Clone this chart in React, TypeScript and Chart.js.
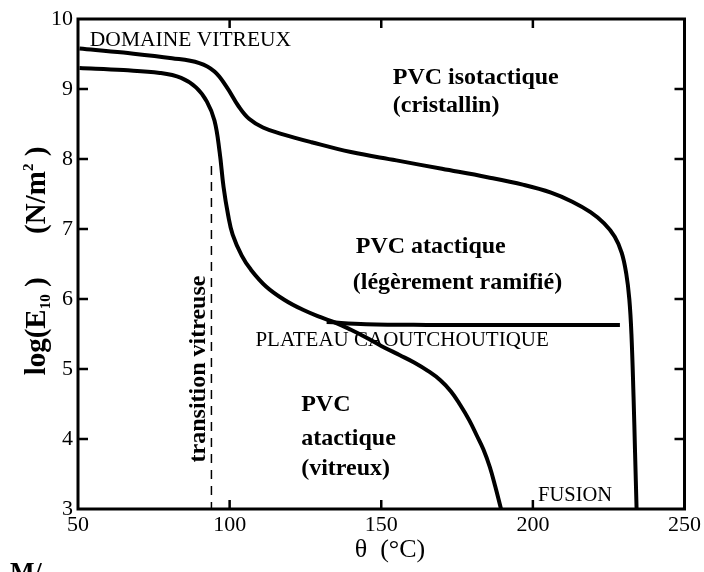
import React, { useEffect, useRef } from "react";
import { Chart, registerables } from "chart.js";

Chart.register(...registerables);

// PVC isotactique (cristallin)
const isoX = [50.5, 65, 81, 90, 95, 99, 103, 106.5, 111, 117, 127, 140, 155, 170, 185, 197, 206, 213, 219, 223.5, 227, 229.3, 230.8, 231.8, 232.5, 233.2, 233.7, 234.2];
const isoY = [9.58, 9.52, 9.44, 9.37, 9.25, 9.03, 8.75, 8.57, 8.45, 8.36, 8.24, 8.1, 7.98, 7.86, 7.74, 7.63, 7.52, 7.39, 7.24, 7.08, 6.89, 6.66, 6.36, 6.0, 5.5, 4.6, 3.8, 3.0];

// PVC atactique (vitreux)
const ataX = [50.5, 65, 77, 84, 89, 92.5, 95, 96.7, 98, 99.5, 101, 104, 107, 112, 118, 124, 130, 135, 140, 145, 150, 156, 161, 165.5, 169.5, 173, 176, 179, 181.5, 183.7, 185.8, 187.6, 189.5];
const ataY = [9.3, 9.27, 9.23, 9.16, 9.02, 8.82, 8.55, 8.1, 7.6, 7.2, 6.92, 6.62, 6.42, 6.18, 5.99, 5.85, 5.74, 5.66, 5.56, 5.45, 5.33, 5.2, 5.09, 4.97, 4.84, 4.68, 4.49, 4.27, 4.05, 3.85, 3.6, 3.32, 3.0];

// PVC atactique (légèrement ramifié) – plateau branch
const ramX = [132, 145, 165, 190, 215, 228.7];
const ramY = [5.67, 5.64, 5.63, 5.63, 5.63, 5.63];

// transition vitreuse (dashed)
const tgX = [94, 94];
const tgY = [7.9, 3.0];

const xTickValues = [50, 100, 150, 200, 250];
const yTickValues = [3, 4, 5, 6, 7, 8, 9, 10];
const innerXTicks = [100, 150, 200];
const innerYTicks = [4, 5, 6, 7, 8, 9];

const annotationTexts = [
  "DOMAINE VITREUX",
  "PVC isotactique",
  "(cristallin)",
  "PVC atactique",
  "(légèrement ramifié)",
  "PLATEAU CAOUTCHOUTIQUE",
  "PVC",
  "atactique",
  "(vitreux)",
  "FUSION",
];
const annotationX = [53.9, 153.8, 153.8, 141.6, 140.6, 108.5, 123.6, 123.6, 123.6, 201.7];
const annotationY = [9.7, 9.16, 8.76, 6.74, 6.23, 5.41, 4.49, 4.01, 3.57, 3.19];
const annotationBold = [false, true, true, true, true, false, true, true, true, false];
const annotationSize = [21.5, 24, 24, 24, 24, 21, 24, 24, 24, 20.5];

const verticalText = "transition vitreuse";
const verticalTextX = 89.7;
const verticalTextY = 5.0;

const toPts = (xs: number[], ys: number[]) => xs.map((x, i) => ({ x, y: ys[i] }));

const SERIF = '"Liberation Serif", "Times New Roman", serif';

const decorPlugin = {
  id: "decor",
  afterDatasetsDraw(chart: any) {
    const { ctx, chartArea: a, scales } = chart;
    const xs = scales.x;
    const ys = scales.y;
    ctx.save();
    ctx.strokeStyle = "#000";
    ctx.fillStyle = "#000";
    // frame
    ctx.lineWidth = 3;
    ctx.strokeRect(a.left, a.top, a.right - a.left, a.bottom - a.top);
    // inward ticks
    ctx.lineWidth = 2.5;
    ctx.beginPath();
    innerYTicks.forEach((v) => {
      const py = ys.getPixelForValue(v);
      ctx.moveTo(a.left, py);
      ctx.lineTo(a.left + 10, py);
      ctx.moveTo(a.right, py);
      ctx.lineTo(a.right - 10, py);
    });
    innerXTicks.forEach((v) => {
      const px = xs.getPixelForValue(v);
      ctx.moveTo(px, a.bottom);
      ctx.lineTo(px, a.bottom - 9);
      ctx.moveTo(px, a.top);
      ctx.lineTo(px, a.top + 9);
    });
    ctx.stroke();

    // annotations
    ctx.textAlign = "left";
    ctx.textBaseline = "middle";
    annotationTexts.forEach((t, i) => {
      ctx.font = `${annotationBold[i] ? "bold " : ""}${annotationSize[i]}px ${SERIF}`;
      ctx.fillText(t, xs.getPixelForValue(annotationX[i]), ys.getPixelForValue(annotationY[i]));
    });

    // vertical annotation
    ctx.save();
    ctx.translate(xs.getPixelForValue(verticalTextX), ys.getPixelForValue(verticalTextY));
    ctx.rotate(-Math.PI / 2);
    ctx.textAlign = "center";
    ctx.font = `bold 24px ${SERIF}`;
    ctx.fillText(verticalText, 0, 0);
    ctx.restore();

    // y axis title (rotated, with sub/superscripts)
    ctx.save();
    ctx.translate(35, 261);
    ctx.rotate(-Math.PI / 2);
    ctx.textAlign = "left";
    ctx.textBaseline = "alphabetic";
    const big = `bold 29px ${SERIF}`;
    const small = `bold 15px ${SERIF}`;
    const parts: [string, string, number][] = [
      ["log(E", big, 0],
      ["10", small, 5],
      [" )", big, 0],
      ["      ", big, 0],
      ["(N/m", big, 0],
      ["2", small, -12],
      [" )", big, 0],
    ];
    let total = 0;
    parts.forEach(([s, f]) => {
      ctx.font = f;
      total += ctx.measureText(s).width;
    });
    let cx = -total / 2;
    parts.forEach(([s, f, dy]) => {
      ctx.font = f;
      ctx.fillText(s, cx, 10 + dy);
      cx += ctx.measureText(s).width;
    });
    ctx.restore();

    // x axis title
    ctx.textAlign = "center";
    ctx.textBaseline = "middle";
    ctx.font = `26px ${SERIF}`;
    ctx.fillText("θ  (°C)", 390, 550);

    // scan fragment bottom-left
    ctx.textAlign = "left";
    ctx.textBaseline = "top";
    ctx.font = `bold 26px ${SERIF}`;
    ctx.fillText("M/", 10, 560);
    ctx.restore();
  },
};

export default function App() {
  const ref = useRef<HTMLCanvasElement | null>(null);
  useEffect(() => {
    document.body.style.margin = "0";
    const canvas = ref.current;
    if (!canvas) return;
    const lineStyle = {
      borderColor: "#000",
      borderWidth: 4,
      pointRadius: 0,
      fill: false,
      tension: 0.4,
    };
    const chart = new Chart(canvas, {
      type: "line",
      data: {
        datasets: [
          { label: "PVC isotactique", data: toPts(isoX, isoY), ...lineStyle },
          { label: "PVC atactique (vitreux)", data: toPts(ataX, ataY), ...lineStyle },
          { label: "PVC atactique (légèrement ramifié)", data: toPts(ramX, ramY), ...lineStyle },
          {
            label: "transition vitreuse",
            data: toPts(tgX, tgY),
            borderColor: "#000",
            borderWidth: 1.5,
            borderDash: [9, 7],
            pointRadius: 0,
            fill: false,
          },
        ],
      },
      options: {
        responsive: false,
        animation: false,
        devicePixelRatio: 1,
        layout: { padding: { left: 0, top: 19, right: 17, bottom: 0 } },
        plugins: { legend: { display: false }, tooltip: { enabled: false } },
        scales: {
          x: {
            type: "linear",
            min: 50,
            max: 250,
            afterBuildTicks: (s: any) => {
              s.ticks = xTickValues.map((v) => ({ value: v }));
            },
            afterFit: (s: any) => {
              s.height = 63;
            },
            grid: { display: false, drawTicks: false },
            border: { display: false },
            ticks: {
              color: "#000",
              padding: 3,
              maxRotation: 0,
              autoSkip: false,
              font: { family: SERIF, size: 22 },
            },
          },
          y: {
            type: "linear",
            min: 3,
            max: 10,
            afterBuildTicks: (s: any) => {
              s.ticks = yTickValues.map((v) => ({ value: v }));
            },
            afterFit: (s: any) => {
              s.width = 78;
            },
            grid: { display: false, drawTicks: false },
            border: { display: false },
            ticks: {
              color: "#000",
              padding: 5,
              autoSkip: false,
              font: { family: SERIF, size: 22 },
            },
          },
        },
      },
      plugins: [decorPlugin],
    });
    return () => chart.destroy();
  }, []);
  return (
    <div style={{ position: "absolute", left: 0, top: 0, width: 704, height: 572, background: "#fff" }}>
      <canvas ref={ref} width={704} height={572} style={{ display: "block" }} />
    </div>
  );
}
